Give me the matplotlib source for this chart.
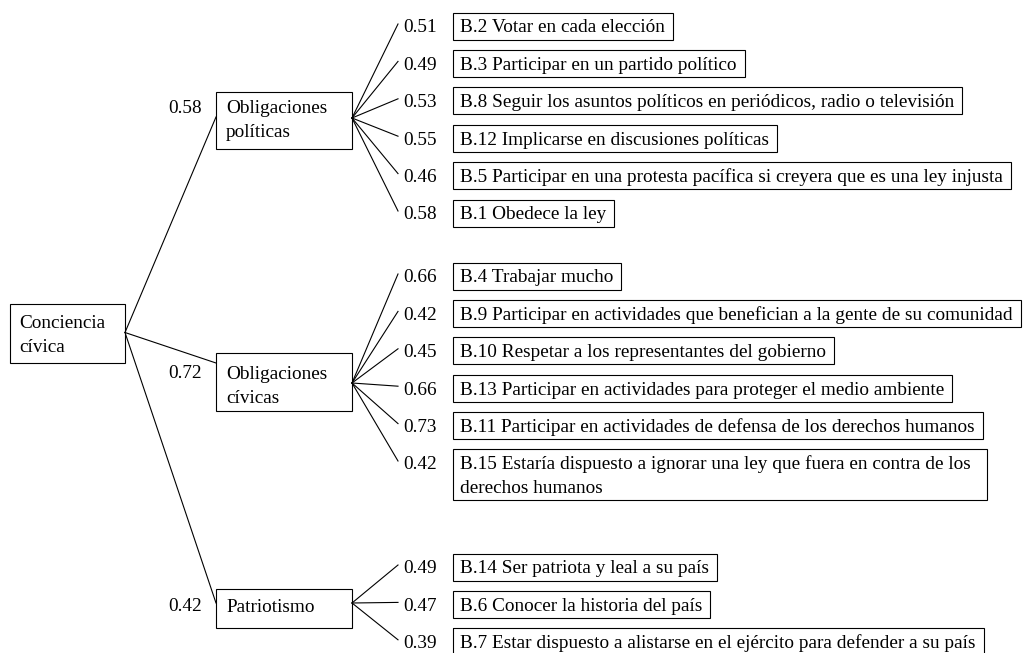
import matplotlib
matplotlib.use("Agg")
import matplotlib.pyplot as plt
from matplotlib.patches import Rectangle

# ---------------- data ----------------
root_name = "Conciencia\ncívica"
factor_names = ["Obligaciones\npolíticas", "Obligaciones\ncívicas", "Patriotismo"]
factor_loadings = [0.58, 0.72, 0.42]

items_politicas = [
    "B.2 Votar en cada elección",
    "B.3 Participar en un partido político",
    "B.8 Seguir los asuntos políticos en periódicos, radio o televisión",
    "B.12 Implicarse en discusiones políticas",
    "B.5 Participar en una protesta pacífica si creyera que es una ley injusta",
    "B.1 Obedece la ley",
]
loadings_politicas = [0.51, 0.49, 0.53, 0.55, 0.46, 0.58]

items_civicas = [
    "B.4 Trabajar mucho",
    "B.9 Participar en actividades que benefician a la gente de su comunidad",
    "B.10 Respetar a los representantes del gobierno",
    "B.13 Participar en actividades para proteger el medio ambiente",
    "B.11 Participar en actividades de defensa de los derechos humanos",
    "B.15 Estaría dispuesto a ignorar una ley que fuera en contra de los\nderechos humanos",
]
loadings_civicas = [0.66, 0.42, 0.45, 0.66, 0.73, 0.42]

items_patriotismo = [
    "B.14 Ser patriota y leal a su país",
    "B.6 Conocer la historia del país",
    "B.7 Estar dispuesto a alistarse en el ejército para defender a su país",
]
loadings_patriotismo = [0.49, 0.47, 0.39]

groups_items = [items_politicas, items_civicas, items_patriotismo]
groups_loadings = [loadings_politicas, loadings_civicas, loadings_patriotismo]

# ---------------- layout ----------------
W, H = 1023, 653
FONT = "Liberation Serif"
FS = 13.9
LW = 0.8
LINE_GAP = 23.5
CAP_HALF = 0.66 * FS * 100 / 72 / 2     # half cap height in px

root_box = (10, 304, 125, 363)          # x0, y0, x1, y1
root_text = (19, 322)
factor_x0, factor_x1 = 216, 352
factor_tops = [92, 353, 589]
factor_bottoms = [149, 411, 628]
factor_text_y = [107, 373, 606]
factor_in_y = [117, 363, 603]           # where the root lines reach each box
factor_fan_y = [118, 383, 603]          # fan origin on right edge
factor_label_x = 202
factor_label_y = [107, 372, 605]

group_first_y = [26, 276, 567]
row_step = 37.4
line_end_x = 398
label_x = 403
box_x0 = 453
text_x = 460
box_half = 13.5
pad_right = 8

fig = plt.figure(figsize=(W / 100, H / 100), dpi=100)
ax = fig.add_axes([0, 0, 1, 1])
ax.set_xlim(0, W)
ax.set_ylim(H, 0)
ax.axis("off")
renderer = fig.canvas.get_renderer()


def txt(x, y, s, ha="left"):
    return ax.text(x, y + CAP_HALF, s, ha=ha, va="baseline", fontsize=FS,
                   family=FONT, color="black")


def multiline(x, y, s):
    objs = []
    for k, line in enumerate(s.split("\n")):
        objs.append(txt(x, y + k * LINE_GAP, line))
    return objs


# root box
rx0, ry0, rx1, ry1 = root_box
ax.add_patch(Rectangle((rx0, ry0), rx1 - rx0, ry1 - ry0, fill=False, ec="black", lw=LW))
multiline(root_text[0], root_text[1], root_name)
root_anchor = (rx1, (ry0 + ry1) / 2 - 1)

for g, (fname, floading) in enumerate(zip(factor_names, factor_loadings)):
    top, bot = factor_tops[g], factor_bottoms[g]
    ax.add_patch(Rectangle((factor_x0, top), factor_x1 - factor_x0, bot - top,
                           fill=False, ec="black", lw=LW))
    multiline(226, factor_text_y[g], fname)
    ax.plot([root_anchor[0], factor_x0], [root_anchor[1], factor_in_y[g]],
            color="black", lw=LW)
    txt(factor_label_x, factor_label_y[g], f"{floading:.2f}", ha="right")

    fan = (factor_x1, factor_fan_y[g])
    y = group_first_y[g]
    for item, ld in zip(groups_items[g], groups_loadings[g]):
        ax.plot([fan[0], line_end_x], [fan[1], y - 2], color="black", lw=LW)
        txt(label_x, y, f"{ld:.2f}")
        objs = multiline(text_x, y, item)
        right = max(o.get_window_extent(renderer).x1 for o in objs)
        nlines = len(objs)
        extra = 8 if nlines > 1 else 0
        height = 2 * box_half + (nlines - 1) * LINE_GAP
        ax.add_patch(Rectangle((box_x0, y - box_half), right + pad_right + extra - box_x0,
                               height, fill=False, ec="black", lw=LW))
        y += row_step

fig.savefig("out.png", dpi=100)
